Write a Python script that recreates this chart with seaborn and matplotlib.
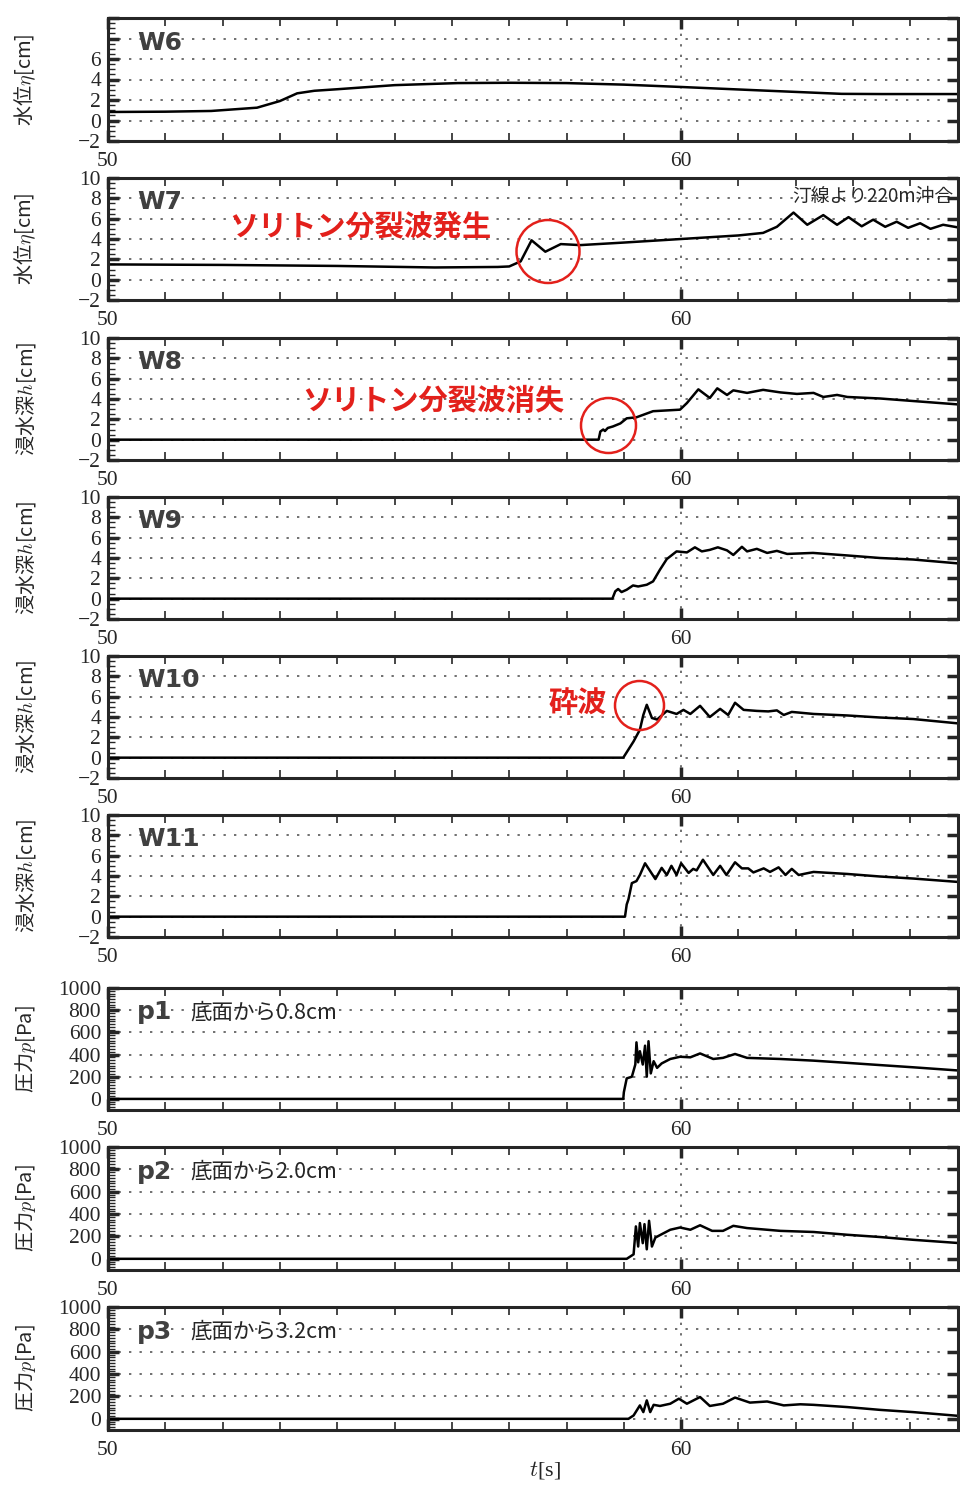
import numpy as np
import pandas as pd
import matplotlib
matplotlib.use('Agg')
import matplotlib.pyplot as plt
import seaborn as sns
from matplotlib.ticker import MultipleLocator
from matplotlib.patches import Circle

# ---- data ----
t_w6 = [50, 51, 51.8, 52.6, 53.0, 53.3, 53.6, 54.0, 55.0, 56.1, 57.0, 58.0, 59.0, 60.0, 61.4, 62.8, 63.5, 64.9]
w6 = [0.83, 0.86, 0.93, 1.25, 1.9, 2.65, 2.9, 3.05, 3.45, 3.65, 3.68, 3.65, 3.5, 3.27, 2.93, 2.6, 2.58, 2.58]

t_w7 = [50, 52, 54, 55.7, 56.8, 57.0, 57.2, 57.39, 57.63, 57.9, 58.24, 59.0, 60.0, 61.0, 61.43, 61.67, 61.96,
        62.2, 62.48, 62.72, 62.92, 63.15, 63.35, 63.56, 63.76, 63.96, 64.17, 64.35, 64.57, 64.87]
w7 = [1.5, 1.45, 1.35, 1.2, 1.25, 1.3, 1.8, 3.87, 2.75, 3.5, 3.4, 3.65, 4.0, 4.35, 4.6, 5.2, 6.6,
      5.4, 6.35, 5.4, 6.15, 5.25, 5.9, 5.2, 5.7, 5.1, 5.55, 5.0, 5.4, 5.1]

t_w8 = [50, 58.56, 58.59, 58.64, 58.67, 58.72, 58.81, 58.94, 59.05, 59.22, 59.51, 59.98, 60.1, 60.3, 60.5,
        60.63, 60.8, 60.91, 61.15, 61.43, 61.73, 62.02, 62.31, 62.48, 62.72, 62.9, 63.47, 64.05, 64.87]
w8 = [0.0, 0.0, 0.8, 1.0, 0.85, 1.15, 1.3, 1.6, 2.1, 2.2, 2.8, 2.95, 3.6, 4.95, 4.1,
      5.05, 4.4, 4.85, 4.6, 4.9, 4.65, 4.5, 4.6, 4.2, 4.4, 4.2, 4.05, 3.8, 3.45]

t_w9 = [50, 58.8, 58.85, 58.9, 58.96, 59.05, 59.16, 59.25, 59.4, 59.51, 59.63, 59.75, 59.92, 60.1, 60.24,
        60.36, 60.5, 60.64, 60.8, 60.91, 61.06, 61.15, 61.32, 61.5, 61.67, 61.85, 62.3, 62.9, 63.47, 64.05, 64.87]
w9 = [0, 0, 0.72, 0.95, 0.65, 0.88, 1.3, 1.2, 1.37, 1.7, 2.85, 3.9, 4.65, 4.55, 5.05,
      4.65, 4.8, 5.05, 4.75, 4.3, 5.1, 4.65, 4.9, 4.5, 4.7, 4.4, 4.5, 4.25, 4.0, 3.85, 3.45]

t_w10 = [50, 58.99, 59.17, 59.28, 59.34, 59.4, 59.49, 59.58, 59.75, 59.92, 60.04, 60.16, 60.33, 60.5,
         60.68, 60.82, 60.94, 61.09, 61.32, 61.52, 61.67, 61.79, 61.93, 62.31, 62.9, 63.47, 64.05, 64.87]
w10 = [0, 0, 1.6, 2.75, 4.2, 5.2, 3.9, 3.75, 4.6, 4.3, 4.7, 4.3, 5.1, 4.0,
       4.8, 4.2, 5.4, 4.7, 4.6, 4.55, 4.65, 4.2, 4.5, 4.3, 4.15, 3.95, 3.8, 3.35]

t_w11 = [50, 59.02, 59.05, 59.08, 59.14, 59.22, 59.28, 59.37, 59.55, 59.66, 59.75, 59.83, 59.92, 60.0,
         60.13, 60.21, 60.27, 60.38, 60.56, 60.68, 60.79, 60.94, 61.06, 61.17, 61.26, 61.44, 61.55,
         61.7, 61.82, 61.93, 62.05, 62.31, 62.9, 63.47, 64.05, 64.87]
w11 = [0, 0, 1.2, 1.7, 3.3, 3.5, 4.1, 5.25, 3.7, 4.8, 4.1, 5.0, 4.1, 5.25,
       4.3, 4.7, 4.55, 5.6, 4.1, 5.0, 4.1, 5.35, 4.75, 4.75, 4.35, 4.75, 4.4,
       4.85, 4.1, 4.7, 4.1, 4.4, 4.2, 3.95, 3.75, 3.4]

t_p1 = [50, 58.99, 59.0, 59.05, 59.14, 59.2, 59.22, 59.25, 59.28, 59.33, 59.37, 59.4, 59.43, 59.47, 59.52,
        59.58, 59.66, 59.81, 59.98, 60.16, 60.33, 60.56, 60.73, 60.94, 61.15, 61.73, 62.31, 62.9, 63.47, 64.05, 64.87]
p1 = [0, 0, 60, 185, 200, 310, 510, 330, 430, 310, 480, 200, 520, 230, 340,
      280, 320, 360, 380, 375, 410, 360, 370, 405, 370, 360, 345, 325, 305, 285, 255]

t_p2 = [50, 59.05, 59.17, 59.21, 59.25, 59.28, 59.33, 59.36, 59.4, 59.44, 59.49, 59.55, 59.66, 59.81,
        59.98, 60.16, 60.33, 60.54, 60.73, 60.91, 61.15, 61.73, 62.31, 62.9, 63.47, 64.05, 64.87]
p2 = [0, 0, 40, 290, 110, 320, 140, 310, 85, 340, 110, 190, 220, 260,
      280, 260, 300, 250, 250, 295, 275, 250, 240, 215, 195, 170, 140]

t_p3 = [50, 59.08, 59.17, 59.28, 59.34, 59.4, 59.46, 59.52, 59.63, 59.81, 59.96, 60.1, 60.33, 60.5,
        60.73, 60.94, 61.2, 61.5, 61.79, 62.08, 62.31, 62.9, 63.47, 64.05, 64.87]
p3 = [0, 0, 30, 120, 60, 165, 60, 125, 115, 135, 180, 135, 195, 115,
      135, 190, 145, 155, 120, 130, 125, 105, 80, 60, 25]

names = ['W6', 'W7', 'W8', 'W9', 'W10', 'W11', 'p1', 'p2', 'p3']
ylabels = ['水位$\\eta$[cm]', '水位$\\eta$[cm]', '浸水深$h$[cm]', '浸水深$h$[cm]', '浸水深$h$[cm]',
           '浸水深$h$[cm]', '圧力$p$[Pa]', '圧力$p$[Pa]', '圧力$p$[Pa]']
depths = {'p1': '底面から0.8cm', 'p2': '底面から2.0cm', 'p3': '底面から3.2cm'}
series = [(t_w6, w6), (t_w7, w7), (t_w8, w8), (t_w9, w9), (t_w10, w10), (t_w11, w11),
          (t_p1, p1), (t_p2, p2), (t_p3, p3)]

# ---- style ----
sns.set_style('ticks')
plt.rcParams['font.family'] = ['Liberation Serif', 'Noto Sans CJK JP', 'DejaVu Sans']
plt.rcParams['mathtext.fontset'] = 'cm'

W, H = 960, 1486
fig = plt.figure(figsize=(W / 100, H / 100), dpi=100)

# pixel boxes of each panel (top, bottom)
boxes = [(18, 141), (178, 300), (338, 460), (497, 619), (656, 778), (815, 937),
         (988, 1110), (1147, 1270), (1307, 1430)]
x0, x1 = 108, 958
red = '#e3201b'
cjk = ['Noto Sans CJK JP', 'DejaVu Sans']

for name, ylab, (tt, vv), (top, bot) in zip(names, ylabels, series, boxes):
    ax = fig.add_axes([x0 / W, 1 - bot / H, (x1 - x0) / W, (bot - top) / H])
    df = pd.DataFrame({'t': tt, 'v': vv})
    sns.lineplot(data=df, x='t', y='v', ax=ax, color='black', lw=1.8, legend=False)
    ax.set_xlim(50, 64.83)
    is_p = name.startswith('p')
    if is_p:
        ax.set_ylim(-100, 1000)
        ax.yaxis.set_major_locator(MultipleLocator(200))
        ax.yaxis.set_minor_locator(MultipleLocator(25))
    else:
        ax.set_ylim(-2, 10)
        ax.yaxis.set_major_locator(MultipleLocator(2))
        ax.yaxis.set_minor_locator(MultipleLocator(0.5))
    ax.xaxis.set_major_locator(MultipleLocator(10))
    ax.xaxis.set_minor_locator(MultipleLocator(1))
    ax.grid(True, which='major', color='#707070', linestyle=(0, (1.2, 4.2)), lw=1.4)
    for s in ax.spines.values():
        s.set_linewidth(2.2)
    ax.tick_params(which='major', direction='in', length=8, width=2.5, top=True, right=True,
                   labelsize=15.5, pad=5)
    ax.tick_params(axis='x', which='major', pad=8)
    ax.tick_params(axis='y', which='minor', direction='in', length=5, width=1, left=True, right=False)
    ax.tick_params(axis='x', which='minor', direction='in', length=6, width=1.2, top=True, bottom=True)
    ax.set_xlabel('')
    ax.set_ylabel(ylab, family=cjk, fontsize=14.5)
    ax.yaxis.set_label_coords(-0.082, 0.5)
    if name == 'W6':
        ax.set_yticks([-2, 0, 2, 4, 6, 8, 10])
        ax.set_yticklabels(['−2', '0', '2', '4', '6', '', ''])
    ax.text(0.034, 0.80, name, transform=ax.transAxes, fontsize=18, fontweight='bold',
            color='#404040', family='DejaVu Sans', va='center', ha='left')
    if name in depths:
        ax.text(0.097, 0.80, depths[name], transform=ax.transAxes, fontsize=15.5,
                family=cjk, va='center', ha='left')
    if name == 'W7':
        ax.text(0.995, 0.845, '汀線より220m沖合', transform=ax.transAxes, fontsize=13.5,
                family=cjk, va='center', ha='right')

fig.text(545 / W, 1 - 1470 / H, '$t$[s]', fontsize=16, ha='center', va='center')

# red annotations
fig.text(360 / W, 1 - 226 / H, 'ソリトン分裂波発生', color=red, fontsize=21, fontweight='bold',
         family=cjk, ha='center', va='center')
fig.text(433 / W, 1 - 401 / H, 'ソリトン分裂波消失', color=red, fontsize=21, fontweight='bold',
         family=cjk, ha='center', va='center')
fig.text(578 / W, 1 - 703 / H, '砕波', color=red, fontsize=21, fontweight='bold',
         family=cjk, ha='center', va='center')
for cx, cy, r in [(548, 251.5, 31.5), (608.5, 425.5, 27.5), (639.5, 705.5, 24.5)]:
    fig.add_artist(Circle((cx / 100, (H - cy) / 100), r / 100, transform=fig.dpi_scale_trans,
                          fill=False, ec=red, lw=1.8))

fig.savefig('out.png', dpi=100)
